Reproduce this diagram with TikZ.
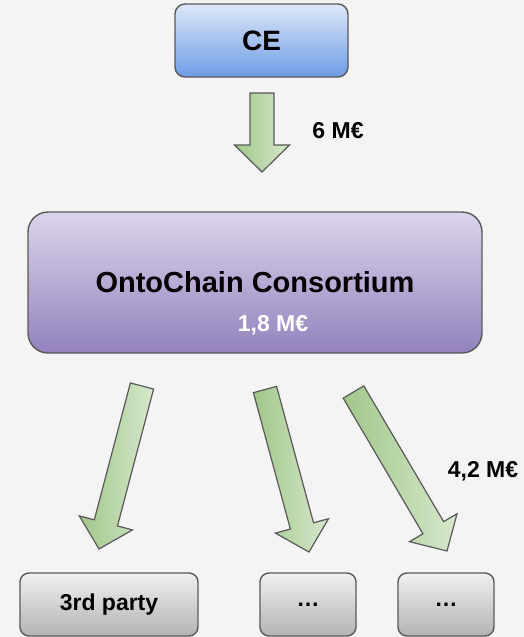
\documentclass[tikz,border=0pt]{standalone}
\usepackage{fontspec}
\setmainfont{Liberation Sans}
\definecolor{bgcol}{HTML}{F4F4F4}
\definecolor{edgecol}{HTML}{595959}
\definecolor{bluetop}{HTML}{DDE7F8}
\definecolor{bluebot}{HTML}{6E9CE6}
\definecolor{lilatop}{HTML}{DCD4EB}
\definecolor{lilabot}{HTML}{9382BE}
\definecolor{graytop}{HTML}{F0F0F0}
\definecolor{graybot}{HTML}{B3B3B3}
\definecolor{greendk}{HTML}{A0C78A}
\definecolor{greenlt}{HTML}{D5E8CB}
% block arrow from one named point to another
\newcommand{\fatarrow}[2]{%
  \pgfpointdiff{\pgfpointanchor{#1}{center}}{\pgfpointanchor{#2}{center}}%
  \pgfgetlastxy{\fax}{\fay}%
  \pgfmathsetmacro{\faang}{atan2(\fay,\fax)}%
  \pgfmathsetmacro{\falen}{veclen(\fax,\fay)}%
  \begin{scope}[shift={(#1)}, rotate=\faang]
    \draw[flow] (0,-12) -- (\falen-27,-12) -- (\falen-27,-27.5) -- (\falen,0)
      -- (\falen-27,27.5) -- (\falen-27,12) -- (0,12) -- cycle;
  \end{scope}}
\begin{document}
\begin{tikzpicture}[x=1pt, y=-1pt,
    box/.style={draw=edgecol, line width=1.4pt, inner sep=0pt, font=\bfseries\fontsize{23}{26}\selectfont},
    bluebox/.style={box, rounded corners=10pt, top color=bluetop, bottom color=bluebot, font=\bfseries\fontsize{28}{32}\selectfont},
    lilabox/.style={box, rounded corners=20pt, top color=lilatop, bottom color=lilabot, font=\bfseries\fontsize{29}{33}\selectfont},
    graybox/.style={box, rounded corners=9pt, top color=graytop, bottom color=graybot, minimum width=96, minimum height=63},
    flow/.style={draw=edgecol, line width=1.2pt, left color=greendk, right color=greenlt},
    amount/.style={font=\bfseries\fontsize{23}{26}\selectfont}]
  \fill[bgcol] (0,0) rectangle (524,637);
  \node[bluebox, minimum width=173, minimum height=73] (ce) at (261.5,40.5) {CE};
  \node[lilabox, minimum width=454, minimum height=141] (cons) at (255,282.5) {OntoChain Consortium};
  \node[amount, text=white] (own) at (273,325) {1,8 M€};
  \node[graybox, minimum width=178] (third) at (109,604.5) {3rd party};
  \node[graybox] (mid) at (308,604.5) {…};
  \node[graybox] (right) at (446,604.5) {…};
  \coordinate (ce-out) at (262,93); \coordinate (cons-in) at (262,172);
  \coordinate (a-out) at (142,386); \coordinate (a-in) at (99,549);
  \coordinate (b-out) at (265,389.5); \coordinate (b-in) at (309,552);
  \coordinate (c-out) at (353.5,392); \coordinate (c-in) at (447,551);
  \fatarrow{ce-out}{cons-in}
  \fatarrow{a-out}{a-in}
  \fatarrow{b-out}{b-in}
  \fatarrow{c-out}{c-in}
  \node[amount] (top-sum) at (338,131) {6 M€};
  \node[amount] (low-sum) at (483,471) {4,2 M€};
\end{tikzpicture}
\end{document}
